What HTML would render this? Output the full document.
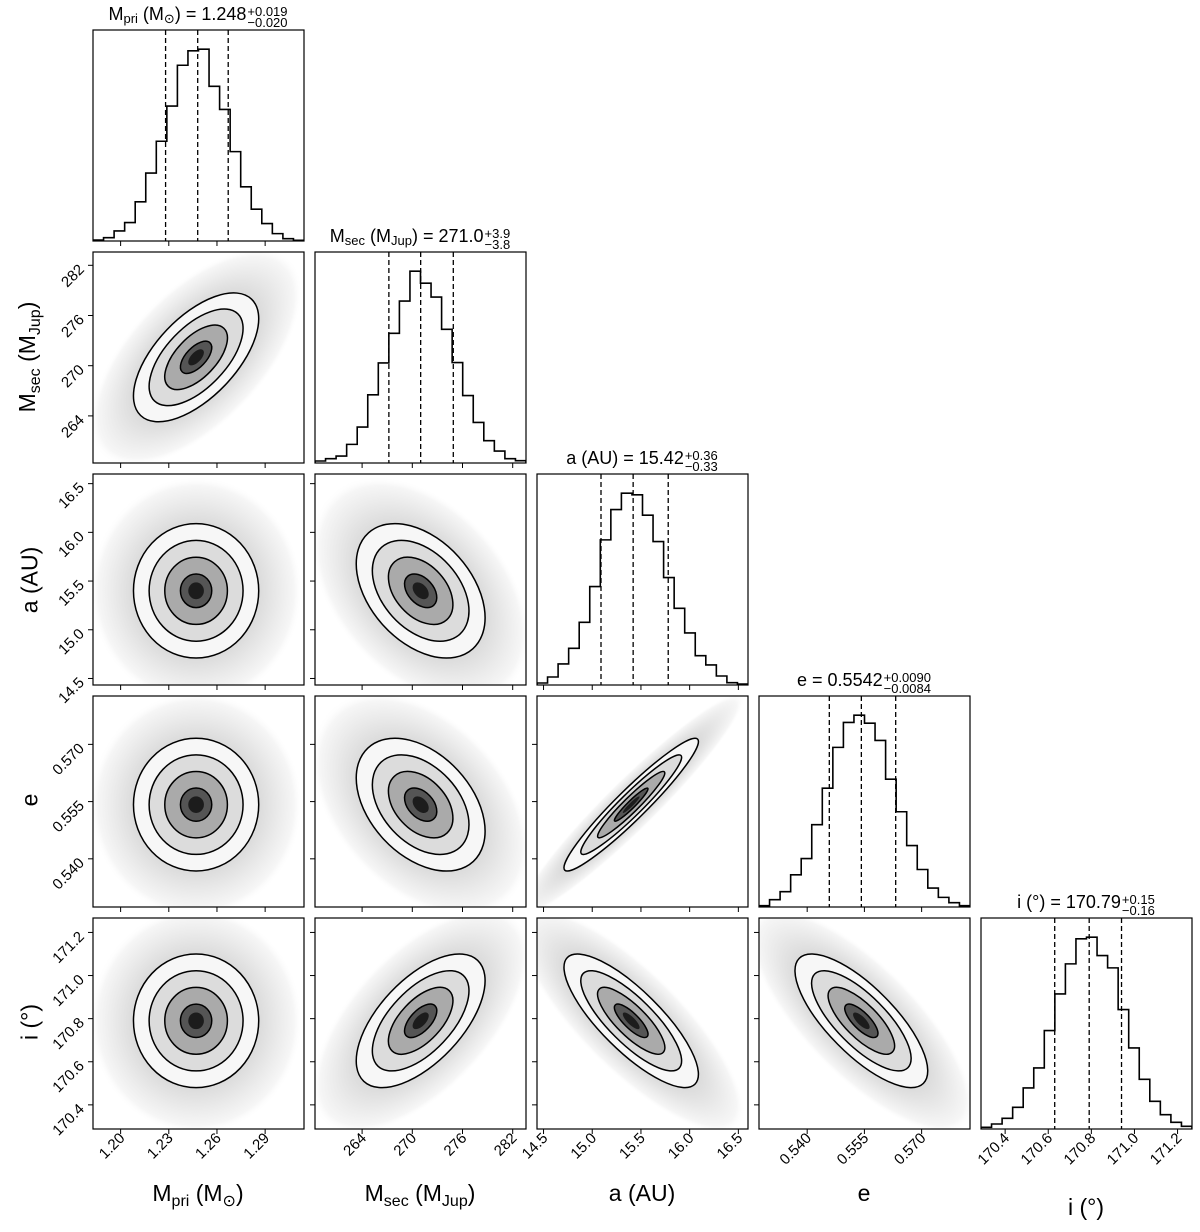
<!DOCTYPE html>
<html><head><meta charset="utf-8">
<style>
html,body{margin:0;padding:0;background:#fff;}
body{width:1200px;height:1232px;position:relative;overflow:hidden;font-family:"Liberation Sans","DejaVu Sans",sans-serif;}
svg{position:absolute;left:0;top:0;}
.title{position:absolute;font-size:18px;white-space:nowrap;transform:translateX(-50%);color:#000;line-height:1;}
.title sub{font-size:13px;vertical-align:-3px;}
.stk{display:inline-block;vertical-align:-7px;font-size:13px;line-height:11px;margin-left:1px;}
.xl{position:absolute;font-size:23px;white-space:nowrap;transform:translateX(-50%);line-height:1;}
.xl sub{font-size:16px;vertical-align:-5px;}
.yl{position:absolute;font-size:23px;white-space:nowrap;transform:translate(-50%,-50%) rotate(-90deg);line-height:1;}
.yl sub{font-size:16px;vertical-align:-5px;}
</style></head>
<body>
<svg id="chart" width="1200" height="1232"></svg>

<div class="title" style="left:198px;top:5px;">M<sub>pri</sub> (M<sub>⊙</sub>) = 1.248<span class="stk">+0.019<br>−0.020</span></div>
<div class="title" style="left:420px;top:227px;">M<sub>sec</sub> (M<sub>Jup</sub>) = 271.0<span class="stk">+3.9<br>−3.8</span></div>
<div class="title" style="left:642px;top:449px;">a (AU) = 15.42<span class="stk">+0.36<br>−0.33</span></div>
<div class="title" style="left:864px;top:671px;">e = 0.5542<span class="stk">+0.0090<br>−0.0084</span></div>
<div class="title" style="left:1086px;top:893px;">i (°) = 170.79<span class="stk">+0.15<br>−0.16</span></div>

<div class="xl" style="left:198px;top:1182px;">M<sub>pri</sub> (M<sub>⊙</sub>)</div>
<div class="xl" style="left:420px;top:1182px;">M<sub>sec</sub> (M<sub>Jup</sub>)</div>
<div class="xl" style="left:642px;top:1182px;">a (AU)</div>
<div class="xl" style="left:864px;top:1182px;">e</div>
<div class="xl" style="left:1086px;top:1196px;">i (°)</div>

<div class="yl" style="left:30px;top:357px;">M<sub>sec</sub> (M<sub>Jup</sub>)</div>
<div class="yl" style="left:30px;top:580px;">a (AU)</div>
<div class="yl" style="left:30px;top:800px;">e</div>
<div class="yl" style="left:30px;top:1022px;">i (°)</div>

<script>
const paramNames = ["mpri","msec","a","e","i"];
const axisLo = [1.1828, 258.37, 14.433, 0.52737, 170.288];
const axisHi = [1.3142, 283.59, 16.599, 0.58268, 171.267];
const means = [1.247, 271.0, 15.40, 0.5542, 170.79];
const sds = [0.0195, 3.85, 0.345, 0.0087, 0.155];
const qLo = [1.228, 267.2, 15.09, 0.5458, 170.63];
const qMid = [1.248, 271.0, 15.42, 0.5542, 170.79];
const qHi = [1.267, 274.9, 15.78, 0.5632, 170.94];
const corrMpri = [1, 0.6, 0.0, 0.0, 0.0];
const corrMsec = [0.6, 1, -0.4, -0.4, 0.6];
const corrA = [0.0, -0.4, 1, 0.95, -0.8];
const corrE = [0.0, -0.4, 0.95, 1, -0.75];
const corrI = [0.0, 0.6, -0.8, -0.75, 1];
const corr = [corrMpri, corrMsec, corrA, corrE, corrI];
const histMpri = [3,10,30,55,117,203,298,403,525,568,573,462,393,267,162,95,52,22,7,2];
const histMsec = [6,13,21,56,108,205,301,390,487,577,541,499,402,302,203,122,67,36,13,7];
const histA = [6,24,63,110,188,295,435,526,575,570,509,430,322,230,156,88,60,27,7,3];
const histE = [4,22,46,97,146,248,358,481,556,578,554,502,385,287,185,113,57,29,13,4];
const histI = [5,15,32,65,123,183,295,405,495,570,575,520,483,358,243,149,83,43,20,8];
const hists = [histMpri, histMsec, histA, histE, histI];
const ticksMpri = [1.20,1.23,1.26,1.29];
const ticksMsec = [264,270,276,282];
const ticksA = [14.5,15.0,15.5,16.0,16.5];
const ticksE = [0.540,0.555,0.570];
const ticksI = [170.4,170.6,170.8,171.0,171.2];
const ticks = [ticksMpri, ticksMsec, ticksA, ticksE, ticksI];
const tickLabelsMpri = ["1.20","1.23","1.26","1.29"];
const tickLabelsMsec = ["264","270","276","282"];
const tickLabelsA = ["14.5","15.0","15.5","16.0","16.5"];
const tickLabelsE = ["0.540","0.555","0.570"];
const tickLabelsI = ["170.4","170.6","170.8","171.0","171.2"];
const tickLabels = [tickLabelsMpri, tickLabelsMsec, tickLabelsA, tickLabelsE, tickLabelsI];

const NS = "http://www.w3.org/2000/svg";
const svg = document.getElementById("chart");
const PL = [93,315,537,759,981], PT = [30,252,474,696,918], S = 211;
function mk(tag, attrs, parent){ const e=document.createElementNS(NS,tag); for(const k in attrs) e.setAttribute(k,attrs[k]); (parent||svg).appendChild(e); return e; }
function xScale(p, col){ return PL[col] + (p-axisLo[col])/(axisHi[col]-axisLo[col])*S; }
function yScale(p, row){ return PT[row]+S - (p-axisLo[row])/(axisHi[row]-axisLo[row])*S; }

const defs = mk("defs",{});
const halo = mk("radialGradient",{id:"halo",cx:"0.5",cy:"0.5",r:"0.5"},defs);
[[0,"#d8d8d8",1],[0.6,"#dcdcdc",1],[0.78,"#ebebeb",1],[0.92,"#f6f6f6",1],[1,"#ffffff",0]].forEach(s=>mk("stop",{offset:s[0],"stop-color":s[1],"stop-opacity":s[2]},halo));

for(let r=0;r<5;r++){
  for(let c=0;c<=r;c++){
    const g = mk("g",{});
    
    
    const cp = mk("clipPath",{id:"cp"+r+c},defs);
    mk("rect",{x:PL[c],y:PT[r],width:S,height:S},cp);
    const inner = mk("g",{"clip-path":"url(#cp"+r+c+")"},g);
    if(r===c){
      const h = hists[c], n=h.length, ymax=Math.max(...h)*1.1, bw=S/n, bot=PT[r]+S;
      let d = "M"+PL[c]+","+bot;
      h.forEach((v,k)=>{ const y=bot - v/ymax*S; d += " L"+(PL[c]+k*bw)+","+y+" L"+(PL[c]+(k+1)*bw)+","+y; });
      d += " L"+(PL[c]+S)+","+bot;
      const path = mk("path",{d:d,fill:"none",stroke:"#000","stroke-width":1.6},inner);
      
      
      [qLo[c],qMid[c],qHi[c]].forEach((q,qi)=>{
        const x=xScale(q,c);
        const ln = mk("line",{x1:x,x2:x,y1:PT[r],y2:bot,stroke:"#000","stroke-width":1.3,"stroke-dasharray":"5,3"},inner);
        
        
      });
    } else {
      const kx = S/(axisHi[c]-axisLo[c]), ky = S/(axisHi[r]-axisLo[r]);
      const sx = sds[c]*kx, sy = sds[r]*ky, rho = corr[r][c];
      const a=sx*sx, dd=sy*sy, cv=-rho*sx*sy;
      const m=(a+dd)/2, q=Math.sqrt(((a-dd)/2)**2+cv*cv);
      const l1=m+q, l2=Math.max(m-q,1e-6);
      const ang = 0.5*Math.atan2(2*cv, a-dd)*180/Math.PI;
      const cx = xScale(means[c],c), cy = yScale(means[r],r);
      const tr = "rotate("+ang+" "+cx+" "+cy+")";
      mk("ellipse",{cx:cx,cy:cy,rx:3.4*Math.sqrt(l1),ry:3.4*Math.sqrt(l2),transform:tr,fill:"url(#halo)"},inner);
      const fills=[[2,"#f7f7f7"],[1.5,"#dcdcdc"],[1,"#aaaaaa"],[0.5,"#555555"],[0.25,"#1c1c1c"]];
      fills.forEach(f=>mk("ellipse",{cx:cx,cy:cy,rx:f[0]*Math.sqrt(l1),ry:f[0]*Math.sqrt(l2),transform:tr,fill:f[1]},inner));
      [2,1.5,1,0.5].forEach(k=>{
        const el = mk("ellipse",{cx:cx,cy:cy,rx:k*Math.sqrt(l1),ry:k*Math.sqrt(l2),transform:tr,fill:"none",stroke:"#000","stroke-width":1.5},inner);
        
        
      });
      ticks[r].forEach((t,ti)=>{
        const y=yScale(t,r);
        mk("line",{x1:PL[c]-5,x2:PL[c],y1:y,y2:y,stroke:"#000","stroke-width":1},g);
        if(c===0){
          const tx = mk("text",{x:PL[c]-8,y:y+5,"text-anchor":"end","font-size":15,transform:"rotate(-45 "+(PL[c]-8)+" "+(y+5)+")"},g);
          tx.textContent = tickLabels[r][ti];
          
          
        }
      });
    }
    ticks[c].forEach((t,ti)=>{
      const x=xScale(t,c), bot=PT[r]+S;
      mk("line",{x1:x,x2:x,y1:bot,y2:bot+5,stroke:"#000","stroke-width":1},g);
      if(r===4){
        const tx = mk("text",{x:x+5,y:bot+10,"text-anchor":"end","font-size":15,transform:"rotate(-45 "+(x+5)+" "+(bot+10)+")"},g);
        tx.textContent = tickLabels[c][ti];
        
        
      }
    });
    mk("rect",{x:PL[c],y:PT[r],width:S,height:S,fill:"none",stroke:"#000","stroke-width":1.2},g);
  }
}
</script>
</body></html>
